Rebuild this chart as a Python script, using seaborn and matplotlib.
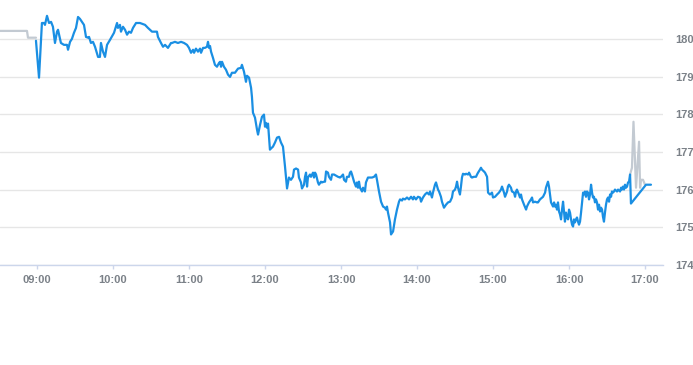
import matplotlib
matplotlib.use("Agg")
import matplotlib.pyplot as plt
import seaborn as sns
import pandas as pd

# ---- data (minutes after 09:00, price) ----
pre_minutes = [-29.2, -7.9, -7.1, -0.8]
pre_prices = [180.21, 180.21, 180.03, 180.03]

session_minutes = [
    -0.8, 1.6, 3.9, 5.5, 6.3, 7.9, 9.5, 11.1, 12.6, 14.2, 15.8, 16.6, 18.9, 21.3, 23.7, 24.5,
    26.1, 27.6, 29.2, 30.8, 32.4, 33.9, 35.5, 37.1, 38.7, 40.3, 41.1, 42.6, 44.2, 45.8, 48.2,
    49.7, 50.5, 52.1, 53.7, 55.3, 57.6, 60.8, 63.2, 63.9, 65.5, 66.3, 67.9, 69.5, 71.1, 72.6,
    74.2, 75.8, 78.2, 81.3, 85.3, 87.6, 90.8, 94.7, 95.5, 97.9, 99.5, 101.1, 103.4, 105.8,
    106.6, 108.9, 111.3, 113.7, 116.1, 118.4, 120.0, 121.6, 123.2, 124.0, 125.5, 127.1, 128.7,
    129.5, 131.1, 132.6, 134.2, 135.0, 135.8, 136.6, 137.4, 138.9, 140.5, 142.1, 143.7, 144.5,
    145.3, 146.1, 147.6, 149.2, 150.8, 152.4, 153.9, 156.3, 158.7, 161.1, 161.8, 163.4, 165.0,
    165.8, 167.4, 169.0, 169.7, 170.5, 172.1, 173.7, 174.5, 176.1, 177.6, 179.2, 180.0, 180.8,
    181.6, 182.4, 183.9, 184.7, 186.3, 187.9, 189.5, 191.1, 192.6, 194.2, 195.8, 197.4, 198.9,
    200.5, 202.1, 202.9, 204.5, 206.1, 206.8, 208.4, 209.2, 210.8, 211.6, 212.4, 213.2, 213.9,
    215.5, 216.3, 217.9, 218.7, 219.5, 220.3, 221.8, 222.6, 224.2, 225.0, 226.6, 227.4, 228.2,
    229.7, 230.5, 232.1, 232.9, 234.5, 236.1, 237.6, 239.2, 240.0, 241.6, 242.4, 243.9, 244.7,
    246.3, 247.1, 247.9, 248.7, 250.3, 251.8, 252.6, 253.4, 254.2, 255.0, 256.6, 257.4, 258.9,
    259.7, 261.3, 262.9, 264.5, 266.1, 267.6, 268.4, 270.0, 271.6, 273.2, 274.7, 275.5, 276.3,
    277.1, 278.7, 279.5, 281.1, 282.6, 284.2, 285.8, 286.6, 288.2, 288.9, 290.5, 292.1, 293.7,
    295.3, 296.8, 297.6, 299.2, 300.8, 302.4, 303.2, 304.7, 306.3, 307.9, 309.5, 310.3, 311.8,
    312.6, 314.2, 315.0, 316.6, 317.4, 318.9, 319.7, 321.3, 322.9, 324.5, 326.1, 327.6, 328.4,
    330.0, 330.8, 331.6, 332.4, 333.9, 334.7, 335.5, 336.3, 337.9, 338.7, 340.3, 341.1, 342.6,
    343.4, 345.0, 346.6, 347.4, 348.2, 349.7, 350.5, 351.3, 352.9, 353.7, 355.3, 356.1, 357.6,
    359.2, 360.0, 361.6, 363.2, 364.7, 366.3, 367.1, 367.9, 368.7, 369.5, 371.1, 371.8, 372.6,
    374.2, 375.0, 376.6, 377.4, 378.2, 378.9, 380.5, 381.3, 382.1, 382.9, 384.5, 386.1, 386.8,
    388.4, 390.0, 390.8, 391.6, 393.2, 394.7, 395.5, 397.1, 399.5, 401.1, 401.8, 403.4, 404.2,
    405.0, 405.8, 407.4, 408.2, 408.9, 409.7, 410.5, 411.3, 412.1, 412.9, 413.7, 414.5, 415.3,
    416.1, 416.8, 417.6, 418.4, 419.2, 420.0, 420.8, 421.6, 422.4, 423.2, 423.9, 424.7, 425.5,
    426.3, 427.1, 427.9, 428.7, 429.5, 430.3, 431.1, 431.8, 432.6, 433.4, 434.2, 435.0, 435.8,
    436.6, 437.4, 438.2, 438.9, 439.7, 440.5, 441.3, 442.1, 442.9, 443.7, 444.5, 445.3, 446.1,
    446.8, 447.6, 448.4, 449.2, 450.0, 450.8, 451.6, 452.4, 453.2, 453.9, 454.7, 455.5, 456.3,
    457.9, 458.7, 460.3, 461.1, 461.8, 462.6, 463.4, 464.2, 465.0, 465.8, 466.6, 467.4, 468.2,
    468.9, 480.8, 484.7,
]
session_prices = [
    179.95, 178.97, 180.42, 180.42, 180.37, 180.61, 180.42, 180.45, 180.32, 179.89, 180.19, 180.24,
    179.89, 179.84, 179.84, 179.71, 179.92, 180.00, 180.16, 180.29, 180.58, 180.53, 180.45, 180.37,
    180.05, 180.03, 180.05, 179.89, 179.92, 179.79, 179.52, 179.52, 179.89, 179.66, 179.52, 179.84,
    179.97, 180.16, 180.42, 180.29, 180.37, 180.19, 180.32, 180.24, 180.11, 180.19, 180.16, 180.29,
    180.42, 180.42, 180.37, 180.29, 180.19, 180.19, 180.05, 179.89, 179.79, 179.84, 179.76, 179.89,
    179.89, 179.92, 179.89, 179.92, 179.89, 179.84, 179.76, 179.63, 179.71, 179.63, 179.74, 179.66,
    179.74, 179.63, 179.76, 179.76, 179.79, 179.92, 179.76, 179.81, 179.66, 179.50, 179.31, 179.26,
    179.36, 179.39, 179.26, 179.39, 179.26, 179.18, 179.05, 178.99, 179.10, 179.10, 179.21, 179.23,
    179.31, 179.13, 178.86, 179.02, 178.97, 178.70, 178.46, 178.04, 177.91, 177.59, 177.46, 177.72,
    177.93, 177.99, 177.67, 177.77, 177.64, 177.75, 177.06, 177.09, 177.14, 177.25, 177.38, 177.40,
    177.25, 177.14, 176.61, 176.03, 176.32, 176.26, 176.34, 176.53, 176.56, 176.53, 176.32, 176.19,
    176.03, 176.13, 176.34, 176.45, 176.08, 176.32, 176.40, 176.34, 176.45, 176.32, 176.45, 176.40,
    176.19, 176.13, 176.21, 176.19, 176.21, 176.21, 176.48, 176.45, 176.34, 176.26, 176.40, 176.40,
    176.37, 176.34, 176.32, 176.34, 176.40, 176.26, 176.21, 176.34, 176.34, 176.45, 176.48, 176.40,
    176.21, 176.08, 176.19, 176.05, 176.21, 176.05, 175.95, 176.05, 175.95, 176.19, 176.32, 176.32,
    176.32, 176.34, 176.40, 176.26, 175.95, 175.68, 175.55, 175.52, 175.47, 175.55, 175.39, 175.13,
    174.81, 174.89, 175.21, 175.47, 175.68, 175.74, 175.71, 175.76, 175.74, 175.79, 175.74, 175.81,
    175.74, 175.81, 175.74, 175.81, 175.79, 175.68, 175.79, 175.87, 175.92, 175.87, 175.95, 175.79,
    175.92, 176.13, 176.19, 176.00, 175.95, 175.81, 175.68, 175.52, 175.60, 175.66, 175.68, 175.79,
    175.95, 176.00, 176.08, 176.21, 176.05, 175.87, 176.08, 176.32, 176.42, 176.40, 176.42, 176.40,
    176.45, 176.34, 176.32, 176.34, 176.34, 176.40, 176.45, 176.53, 176.58, 176.53, 176.48, 176.45,
    176.34, 175.92, 175.87, 175.92, 175.79, 175.81, 175.87, 175.92, 176.00, 176.08, 176.00, 175.92,
    175.81, 175.95, 176.08, 176.13, 176.05, 175.95, 175.92, 175.81, 175.95, 176.00, 175.87, 175.79,
    175.87, 175.74, 175.60, 175.47, 175.55, 175.66, 175.74, 175.79, 175.66, 175.68, 175.66, 175.66,
    175.74, 175.81, 175.92, 176.05, 176.21, 176.08, 175.87, 175.66, 175.55, 175.66, 175.55, 175.60,
    175.47, 175.66, 175.42, 175.34, 175.21, 175.47, 175.68, 175.39, 175.15, 175.39, 175.26, 175.21,
    175.47, 175.39, 175.21, 175.07, 175.02, 175.21, 175.13, 175.21, 175.26, 175.15, 175.07, 175.15,
    175.39, 175.66, 175.92, 175.87, 175.95, 175.81, 175.95, 175.92, 175.74, 175.87, 176.13, 175.92,
    175.79, 175.81, 175.66, 175.74, 175.66, 175.47, 175.60, 175.42, 175.52, 175.47, 175.28, 175.15,
    175.39, 175.60, 175.74, 175.79, 175.68, 175.87, 175.81, 175.95, 175.92, 175.95, 176.00, 175.95,
    176.00, 175.95, 176.05, 176.00, 176.08, 176.00, 176.13, 176.05, 176.08, 176.19, 176.21, 176.40,
    175.63, 176.13, 176.13,
]

post_minutes = [468.2, 469.7, 470.9, 472.9, 475.3, 476.1, 476.8, 478.4, 480.0]
post_prices = [176.40, 176.58, 177.80, 176.05, 177.27, 176.05, 176.26, 176.26, 176.13]

tick_labels = ["09:00", "10:00", "11:00", "12:00", "13:00", "14:00", "15:00", "16:00", "17:00"]
y_ticks = [174, 175, 176, 177, 178, 179, 180]

# ---- build frames ----
pre_df = pd.DataFrame({"minute": pre_minutes, "price": pre_prices})
ses_df = pd.DataFrame({"minute": session_minutes, "price": session_prices})
post_df = pd.DataFrame({"minute": post_minutes, "price": post_prices})

sns.set_theme(style="white")
plt.rcParams["font.family"] = ["Liberation Sans", "DejaVu Sans"]

fig = plt.figure(figsize=(6.93, 3.65), dpi=100)
ax = fig.add_axes([0.0, 0.274, 663 / 693, 0.726])

gray = "#c3cad2"
blue = "#1a8fe3"

sns.lineplot(data=pre_df, x="minute", y="price", ax=ax, color=gray, linewidth=1.6,
             estimator=None, sort=False)
sns.lineplot(data=post_df, x="minute", y="price", ax=ax, color=gray, linewidth=1.6,
             estimator=None, sort=False)
sns.lineplot(data=ses_df, x="minute", y="price", ax=ax, color=blue, linewidth=1.6,
             estimator=None, sort=False)

ax.set_xlim(-29.2, 494.2)
ax.set_ylim(174, 181.03)

tick_pos = [(int(t[:2]) - 9) * 60 + int(t[3:]) for t in tick_labels]
ax.set_xticks(tick_pos)
ax.set_xticklabels(tick_labels)
ax.set_yticks(y_ticks)
ax.set_yticklabels([str(v) for v in y_ticks])

ax.yaxis.tick_right()
ax.grid(axis="y", color="#e6e6e6", linewidth=1)
ax.grid(axis="x", visible=False)
ax.set_axisbelow(True)

for side in ["top", "left", "right"]:
    ax.spines[side].set_visible(False)
ax.spines["bottom"].set_color("#ccd6eb")
ax.spines["bottom"].set_linewidth(1)

ax.tick_params(axis="x", length=3, width=1, color="#ccd6eb", pad=4,
               labelsize=8, labelcolor="#7b8188", bottom=True)
ax.tick_params(axis="y", length=0, pad=9, labelsize=8, labelcolor="#7b8188",
               right=False, left=False)
for lbl in ax.get_xticklabels() + ax.get_yticklabels():
    lbl.set_fontweight("bold")

ax.set_xlabel("")
ax.set_ylabel("")
ax.legend_ = None

fig.savefig("out.png", dpi=100)
